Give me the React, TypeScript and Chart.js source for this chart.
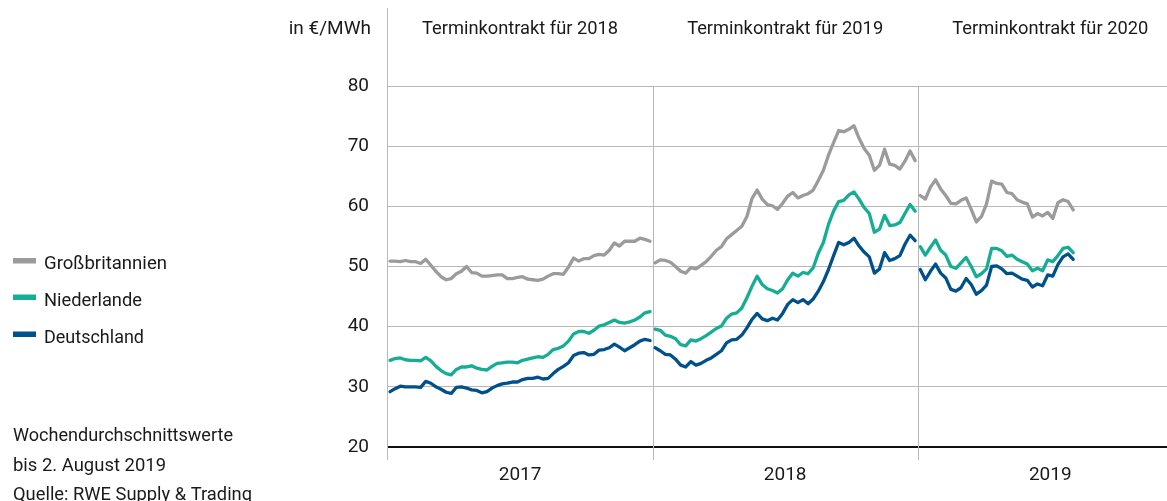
import React, { useEffect, useRef } from "react";
import { Chart, registerables } from "chart.js";

Chart.register(...registerables);

// ---- data ----
const years = ["2017", "2018", "2019"];
const contracts = ["Terminkontrakt für 2018", "Terminkontrakt für 2019", "Terminkontrakt für 2020"];
const seriesNames = ["Großbritannien", "Niederlande", "Deutschland"];
const unitLabel = "in €/MWh";
const notes = ["Wochendurchschnittswerte", "bis 2. August 2019", "Quelle: RWE Supply & Trading"];
const yTicks = [20, 30, 40, 50, 60, 70, 80];
const weeksPerYear = 52;

const gb2017 = [50.9, 50.9, 50.8, 51.0, 50.8, 50.8, 50.5, 51.2, 50.2, 49.2, 48.3, 47.8, 48.0, 48.8, 49.2, 50.0, 49.0, 48.9, 48.4, 48.4, 48.5, 48.6, 48.6, 48.0, 48.0, 48.2, 48.3, 47.9, 47.8, 47.7, 47.9, 48.4, 48.8, 48.8, 48.7, 49.9, 51.4, 50.9, 51.3, 51.3, 51.8, 52.0, 51.9, 52.7, 53.9, 53.4, 54.2, 54.2, 54.2, 54.7, 54.5, 54.2];
const nl2017 = [34.4, 34.7, 34.8, 34.5, 34.4, 34.4, 34.3, 34.9, 34.3, 33.4, 32.7, 32.2, 32.0, 32.9, 33.3, 33.3, 33.5, 33.1, 32.9, 32.8, 33.4, 33.9, 34.0, 34.1, 34.1, 34.0, 34.4, 34.6, 34.8, 35.0, 34.9, 35.4, 36.2, 36.4, 36.8, 37.6, 38.8, 39.2, 39.2, 38.9, 39.4, 40.1, 40.3, 40.7, 41.1, 40.7, 40.6, 40.8, 41.1, 41.6, 42.3, 42.5];
const de2017 = [29.2, 29.7, 30.1, 30.0, 30.0, 30.0, 29.9, 30.9, 30.6, 30.0, 29.6, 29.1, 28.9, 29.9, 30.0, 29.8, 29.5, 29.4, 29.0, 29.2, 29.8, 30.2, 30.5, 30.6, 30.8, 30.8, 31.2, 31.4, 31.4, 31.6, 31.3, 31.4, 32.2, 32.9, 33.4, 34.0, 35.2, 35.6, 35.7, 35.3, 35.4, 36.1, 36.2, 36.5, 37.1, 36.6, 36.0, 36.5, 37.0, 37.6, 37.9, 37.7];

const gb2018 = [50.6, 51.1, 51.0, 50.7, 50.0, 49.2, 48.9, 49.8, 49.6, 50.2, 50.8, 51.7, 52.7, 53.3, 54.6, 55.3, 56.0, 56.7, 58.3, 61.3, 62.7, 61.2, 60.3, 60.1, 59.5, 60.5, 61.7, 62.3, 61.4, 61.8, 62.1, 62.7, 64.3, 66.0, 68.5, 70.6, 72.6, 72.4, 72.8, 73.4, 71.3, 69.6, 68.5, 66.0, 66.8, 69.5, 67.0, 66.8, 66.2, 67.5, 69.2, 67.6];
const nl2018 = [39.6, 39.4, 38.6, 38.4, 38.0, 37.0, 36.8, 37.8, 37.6, 38.0, 38.5, 39.1, 39.7, 40.1, 41.4, 42.1, 42.3, 43.1, 44.8, 46.7, 48.4, 47.0, 46.3, 46.0, 45.6, 46.3, 47.8, 48.9, 48.4, 49.0, 48.8, 49.8, 52.2, 54.0, 57.0, 59.2, 60.8, 61.0, 61.9, 62.4, 61.2, 59.8, 58.8, 55.7, 56.2, 58.5, 56.8, 56.9, 57.3, 58.8, 60.3, 59.2];
const de2018 = [36.5, 36.0, 35.4, 35.3, 34.6, 33.6, 33.3, 34.2, 33.6, 33.9, 34.4, 34.8, 35.4, 36.0, 37.3, 37.8, 37.9, 38.6, 39.8, 41.2, 42.2, 41.3, 41.0, 41.4, 41.1, 42.2, 43.7, 44.5, 44.0, 44.5, 43.8, 44.6, 45.9, 47.5, 49.5, 51.8, 54.0, 53.6, 54.0, 54.7, 53.4, 52.4, 51.6, 48.9, 49.6, 52.3, 51.0, 51.3, 51.8, 53.7, 55.2, 54.3];

const gb2019 = [61.8, 61.2, 63.2, 64.4, 62.9, 61.8, 60.5, 60.4, 61.0, 61.4, 59.5, 57.4, 58.3, 60.4, 64.2, 63.8, 63.7, 62.3, 62.1, 61.1, 60.7, 60.4, 58.2, 58.8, 58.4, 59.0, 58.0, 60.6, 61.1, 60.8, 59.4];
const nl2019 = [53.3, 51.9, 53.2, 54.4, 52.7, 51.9, 50.0, 49.7, 50.6, 51.5, 50.0, 48.3, 48.8, 49.6, 53.0, 53.0, 52.6, 51.7, 51.9, 51.2, 50.8, 50.4, 49.3, 49.7, 49.3, 51.1, 50.8, 51.8, 53.0, 53.2, 52.3];
const de2019 = [49.5, 47.8, 49.2, 50.4, 48.9, 48.1, 46.2, 45.9, 46.5, 48.0, 47.0, 45.4, 46.0, 46.9, 50.0, 50.1, 49.6, 48.8, 48.9, 48.4, 47.9, 47.7, 46.6, 47.1, 46.8, 48.6, 48.4, 50.3, 51.6, 52.1, 51.2];

const seriesColors = ["#9b9b9b", "#16ad95", "#00508b"];
const textColor = "#1a1a1a";
const gridColor = "#b8b8b8";
const FONT = 'Roboto, "Liberation Sans", sans-serif';
const FS = 19;

function buildSeries(segs: number[][]) {
  const out: { x: number; y: number | null }[] = [];
  segs.forEach((seg, s) => {
    seg.forEach((v, i) => out.push({ x: s * weeksPerYear + i, y: v }));
    if (s < segs.length - 1) out.push({ x: (s + 1) * weeksPerYear - 0.5, y: null });
  });
  return out;
}

const yearCenters = years.map((_, i) => i * weeksPerYear + (weeksPerYear - 1) / 2);
const dividers = [weeksPerYear - 0.5, 2 * weeksPerYear - 0.5];

function fitText(ctx: CanvasRenderingContext2D, text: string, x: number, y: number, maxW: number) {
  const w = ctx.measureText(text).width;
  if (w > maxW) ctx.fillText(text, x, y, maxW);
  else ctx.fillText(text, x, y);
}

const decorPlugin = {
  id: "decor",
  beforeDatasetsDraw(chart: any) {
    const { ctx, chartArea, scales } = chart;
    const xs = scales.x;
    const ys = scales.y;
    ctx.save();
    ctx.strokeStyle = gridColor;
    ctx.lineWidth = 1;
    const ax = Math.round(chartArea.left) + 0.5;
    ctx.beginPath();
    ctx.moveTo(ax, 8);
    ctx.lineTo(ax, chartArea.bottom + 13);
    ctx.stroke();
    dividers.forEach((d) => {
      const px = Math.round(xs.getPixelForValue(d)) + 0.5;
      ctx.beginPath();
      ctx.moveTo(px, ys.getPixelForValue(80));
      ctx.lineTo(px, chartArea.bottom + 13);
      ctx.stroke();
    });
    ctx.restore();
  },
  afterDraw(chart: any) {
    const { ctx, scales } = chart;
    const xs = scales.x;
    ctx.save();
    ctx.fillStyle = textColor;
    ctx.font = `${FS}px ${FONT}`;
    ctx.textBaseline = "alphabetic";
    ctx.textAlign = "right";
    fitText(ctx, unitLabel, 371, 34, 84);
    ctx.textAlign = "center";
    contracts.forEach((c, i) => {
      fitText(ctx, c, xs.getPixelForValue(yearCenters[i]), 34, 196);
    });
    ctx.textAlign = "left";
    const legendBase = [269, 305.5, 342.5];
    const legendW = [123, 98, 100];
    chart.data.datasets.forEach((ds: any, i: number) => {
      ctx.fillStyle = ds.borderColor;
      ctx.fillRect(13, legendBase[i] - 11, 23, 5.5);
      ctx.fillStyle = textColor;
      fitText(ctx, ds.label, 44, legendBase[i], legendW[i]);
    });
    const noteBase = [441, 471, 500];
    const noteW = [220, 153, 239];
    notes.forEach((n, i) => fitText(ctx, n, 13, noteBase[i], noteW[i]));
    ctx.restore();
  },
};

export default function App() {
  const ref = useRef<HTMLCanvasElement | null>(null);
  useEffect(() => {
    if (!ref.current) return;
    const chart = new Chart(ref.current, {
      type: "line",
      data: {
        datasets: [
          { label: seriesNames[0], data: buildSeries([gb2017, gb2018, gb2019]) as any, borderColor: seriesColors[0] },
          { label: seriesNames[1], data: buildSeries([nl2017, nl2018, nl2019]) as any, borderColor: seriesColors[1] },
          { label: seriesNames[2], data: buildSeries([de2017, de2018, de2019]) as any, borderColor: seriesColors[2] },
        ].map((d) => ({
          ...d,
          borderWidth: 3.3,
          pointRadius: 0,
          tension: 0,
          fill: false,
          spanGaps: false,
          borderJoinStyle: "round" as const,
          borderCapStyle: "round" as const,
        })),
      },
      options: {
        animation: false,
        responsive: false,
        maintainAspectRatio: false,
        layout: { padding: { top: 86, left: 0, right: 0, bottom: 0 } },
        plugins: { legend: { display: false }, tooltip: { enabled: false } },
        scales: {
          x: {
            type: "linear",
            min: -0.6,
            max: 152.4,
            grid: { display: false },
            border: { display: false },
            afterBuildTicks: (s: any) => {
              s.ticks = yearCenters.map((v) => ({ value: v }));
            },
            afterFit: (s: any) => {
              s.height = 54;
            },
            ticks: {
              autoSkip: false,
              maxRotation: 0,
              padding: 9,
              color: textColor,
              font: { family: FONT, size: FS },
              callback: (_v: any, i: number) => years[i],
            },
          },
          y: {
            type: "linear",
            min: 20,
            max: 80,
            afterBuildTicks: (s: any) => {
              s.ticks = yTicks.map((v) => ({ value: v }));
            },
            afterFit: (s: any) => {
              s.width = 387;
            },
            border: { display: false },
            grid: {
              drawTicks: false,
              color: (c: any) => (c.tick && c.tick.value === 20 ? "#111111" : gridColor),
              lineWidth: (c: any) => (c.tick && c.tick.value === 20 ? 2 : 1),
            },
            ticks: {
              padding: 18,
              color: textColor,
              font: { family: FONT, size: FS },
            },
          },
        },
      },
      plugins: [decorPlugin],
    });
    return () => chart.destroy();
  }, []);
  return (
    <div style={{ position: "absolute", left: 0, top: 0, width: 1167, height: 501, background: "#fff" }}>
      <canvas ref={ref} width={1167} height={501} style={{ display: "block" }} />
    </div>
  );
}
